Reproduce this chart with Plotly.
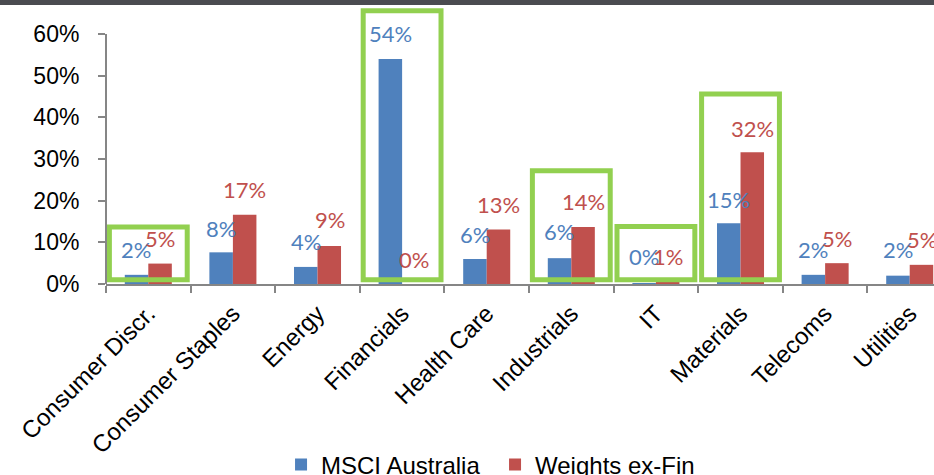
import plotly.graph_objects as go

# Sector weights (%)
sectors = ["Consumer Discr.", "Consumer Staples", "Energy", "Financials", "Health Care",
           "Industrials", "IT", "Materials", "Telecoms", "Utilities"]
msci_australia = [2.2, 7.6, 4.1, 54.0, 6.0, 6.2, 0.2, 14.6, 2.2, 2.0]
weights_ex_fin = [4.9, 16.6, 9.1, 0.0, 13.1, 13.7, 0.8, 31.6, 5.0, 4.6]

y_tick_vals = [0, 10, 20, 30, 40, 50, 60]
y_tick_text = ["0%", "10%", "20%", "30%", "40%", "50%", "60%"]

# Heights (in % units) at which each value label is centred
msci_label_y = [8.2, 13.4, 10.3, 60.2, 12.0, 12.5, 6.5, 20.4, 8.4, 8.2]
exfin_label_y = [11.0, 22.6, 15.6, 5.8, 19.0, 19.9, 6.7, 37.4, 11.0, 10.6]

# Highlighted sectors and the top edge of each outline box (% units)
highlighted = ["Consumer Discr.", "Financials", "Industrials", "IT", "Materials"]
highlight_top = [13.7, 65.6, 27.2, 13.8, 45.6]

BLUE = "#4F81BD"
RED = "#C0504D"
GREEN = "#92D050"
AXIS = "#868686"
Y_MAX = 66.96

fig = go.Figure()
fig.add_trace(go.Bar(x=sectors, y=msci_australia, name="MSCI Australia",
                     marker=dict(color=BLUE, line=dict(width=0))))
fig.add_trace(go.Bar(x=sectors, y=weights_ex_fin, name="Weights ex-Fin",
                     marker=dict(color=RED, line=dict(width=0))))

annotations = []
for sector, v, ly in zip(sectors, msci_australia, msci_label_y):
    annotations.append(dict(x=sector, y=ly, xshift=-12, text=f"{v:.0f}%", showarrow=False,
                            xanchor="center", yanchor="middle",
                            font=dict(family="Lato", size=22, color=BLUE)))
for sector, v, ly in zip(sectors, weights_ex_fin, exfin_label_y):
    annotations.append(dict(x=sector, y=ly, xshift=12, text=f"{v:.0f}%", showarrow=False,
                            xanchor="center", yanchor="middle",
                            font=dict(family="Lato", size=22, color=RED)))

shapes = []
for sector, top in zip(highlighted, highlight_top):
    i = sectors.index(sector)
    shapes.append(dict(type="rect", xref="x", yref="y", x0=i - 0.46, x1=i + 0.46,
                       y0=1.0, y1=top, line=dict(color=GREEN, width=5),
                       fillcolor="rgba(0,0,0,0)", layer="above"))
# vertical axis line, drawn only up to the top tick
shapes.append(dict(type="line", xref="paper", yref="y", x0=0, x1=0, y0=0, y1=60,
                   line=dict(color=AXIS, width=2), layer="above"))
# dark header band along the top edge
shapes.append(dict(type="rect", xref="paper", yref="paper", x0=-0.2, x1=1.2, y0=1.0, y1=1.05,
                   line=dict(width=0), fillcolor="#4a4b50", layer="above"))

fig.update_layout(
    width=934, height=475,
    margin=dict(l=106, r=0, t=5, b=191, autoexpand=False),
    paper_bgcolor="white", plot_bgcolor="white",
    barmode="group", bargap=0.444, bargroupgap=0,
    font=dict(family="Liberation Sans, Arial", size=23, color="black"),
    showlegend=True,
    legend=dict(orientation="h", x=0.2114, xanchor="left", y=-0.6487, yanchor="middle",
                entrywidth=169, entrywidthmode="pixels",
                font=dict(size=24, color="black"), bgcolor="rgba(0,0,0,0)"),
    xaxis=dict(range=[-0.5, 9.287], showline=True, linecolor=AXIS, linewidth=2,
               ticks="outside", tickson="boundaries", ticklen=7, tickcolor=AXIS, tickwidth=1.5,
               tickangle=-45, showgrid=False, zeroline=False, automargin=False,
               ticklabelstandoff=4,
               tickfont=dict(family="Liberation Sans, Arial", size=24, color="black")),
    yaxis=dict(range=[0, Y_MAX], showline=False, showgrid=False, zeroline=False,
               tickvals=y_tick_vals, ticktext=y_tick_text, automargin=False,
               ticks="outside", ticklen=7, tickcolor=AXIS, tickwidth=1.5,
               ticklabelstandoff=14,
               tickfont=dict(family="Liberation Sans, Arial", size=23, color="black")),
    annotations=annotations,
    shapes=shapes,
    hovermode=False,
)

fig.write_html("out.html", config={"displayModeBar": False})
